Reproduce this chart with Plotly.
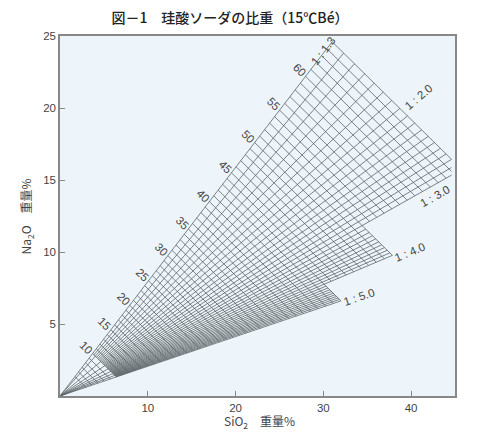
import numpy as np
import plotly.graph_objects as go

# ---- data ----
# molar ratio lines Na2O : SiO2 = 1 : r
RATIO_LINES = [1.3, 1.4, 1.5, 1.6, 1.7, 1.8, 1.9, 2.0, 2.1, 2.2, 2.3, 2.4, 2.5,
               2.6, 2.7, 2.8, 2.9, 3.0, 3.1, 3.2, 3.3, 3.4, 3.5, 3.6, 3.7, 3.8,
               3.9, 4.0, 4.1, 4.2, 4.3, 4.4, 4.5, 4.6, 4.7, 4.8, 4.9, 5.0]
# ratio lines that run all the way into the origin
RATIO_MAIN = [1.3, 1.5, 2.0, 2.5, 3.0, 3.5, 4.0, 4.5, 5.0]
RATIO_LABELS = [1.3, 2.0, 3.0, 4.0, 5.0]
# Baume lines (15 C) every 1 Be
BE_LINES = list(range(5, 66))
BE_FINE_START = 10
BE_LABELS = [10, 15, 20, 25, 30, 35, 40, 45, 50, 55, 60]
# Na2O wt% where each Be line meets the 1:1.3 line
BE_ANCHORS = [0, 5, 10, 15, 20, 25, 30, 35, 40, 45, 50, 55, 60, 65]
NA2O_ON_R13 = [0, 1.35, 2.95, 4.6, 6.3, 8.0, 9.75, 11.6, 13.5, 15.5, 17.6, 19.85, 22.2, 24.6]
BE_SLOPE = -0.60            # dNa2O/dSiO2 along an iso-Be line
BAND_LIMITS = [(3.0, 65), (4.0, 52), (5.0, 43)]   # (upper ratio of band, max Be)
SIO2_LIMIT = 44.6
MOLAR_TO_WEIGHT = 60.08 / 61.98

X_TICKS = [10, 20, 30, 40]
Y_TICKS = [5, 10, 15, 20, 25]


def wr(r):
    return r * MOLAR_TO_WEIGHT


def be_start(be):
    n1 = float(np.interp(be, BE_ANCHORS, NA2O_ON_R13))
    return wr(1.3) * n1, n1


def max_be_for_ratio(r):
    for rr, b in BAND_LIMITS:
        if r <= rr + 1e-9:
            return b
    return BAND_LIMITS[-1][1]


def end_ratio_for_be(be):
    for rr, b in reversed(BAND_LIMITS):
        if be <= b:
            return rr
    return BAND_LIMITS[0][0]


def intersect(be, r):
    s1, n1 = be_start(be)
    w = wr(r)
    s = (n1 - BE_SLOPE * s1) / (1.0 / w - BE_SLOPE)
    return s, s / w


xs, ys = [], []
for r in RATIO_LINES:
    s, n = intersect(max_be_for_ratio(r), r)
    if s > SIO2_LIMIT:
        s = SIO2_LIMIT
        n = s / wr(r)
    if any(abs(r - m) < 1e-9 for m in RATIO_MAIN):
        s0, n0 = 0.0, 0.0
    else:
        s0, n0 = intersect(BE_FINE_START, r)
    xs += [s0, s, None]
    ys += [n0, n, None]
for be in BE_LINES:
    s1, n1 = be_start(be)
    s2, n2 = intersect(be, end_ratio_for_be(be))
    if s2 > SIO2_LIMIT:
        s2 = SIO2_LIMIT
        n2 = n1 + BE_SLOPE * (s2 - s1)
    xs += [s1, s2, None]
    ys += [n1, n2, None]

fig = go.Figure()
fig.add_trace(go.Scatter(x=xs, y=ys, mode="lines",
                         line=dict(color="#5d6468", width=0.8),
                         hoverinfo="skip", showlegend=False))

ann = []
lab_font = dict(family="Liberation Sans, Arial, sans-serif", size=11.5, color="#444")
for be in BE_LABELS:
    s1, n1 = be_start(be)
    ann.append(dict(x=s1, y=n1, xref="x", yref="y", text=str(be), showarrow=False,
                    textangle=45, xshift=-6, yshift=6, font=lab_font))

ratio_shift = {1.3: (-9, -9), 2.0: (19, 11), 3.0: (-16, -21), 4.0: (18, 3), 5.0: (18, 4)}
for r in RATIO_LABELS:
    s, n = intersect(max_be_for_ratio(r), r)
    if s > SIO2_LIMIT:
        s = SIO2_LIMIT
        n = s / wr(r)
    ang = -np.degrees(np.arctan((14.4 / 8.78) / wr(r)))
    dx, dy = ratio_shift[r]
    ann.append(dict(x=s, y=n, xref="x", yref="y", text="1 : %.1f" % r, showarrow=False,
                    textangle=ang, xshift=dx, yshift=dy, font=lab_font))

cjk = "Noto Sans CJK JP, sans-serif"
ann.append(dict(x=0.506, y=-0.07, xref="paper", yref="paper", showarrow=False,
                xanchor="center", yanchor="middle",
                text="SiO<sub>2</sub>　重量%", font=dict(family=cjk, size=12, color="#444")))
ann.append(dict(x=-0.085, y=0.50, xref="paper", yref="paper", showarrow=False,
                xanchor="center", yanchor="middle",
                textangle=-90, text="Na<sub>2</sub>O　重量%",
                font=dict(family=cjk, size=12, color="#444")))

axis_common = dict(showgrid=False, zeroline=False, showline=True, linecolor="#888",
                   linewidth=1.5, mirror=True, ticks="inside", ticklen=5,
                   tickcolor="#888", tickfont=lab_font)
# the page body has an 8px margin, so margins are offset by 8px
fig.update_layout(
    width=480, height=444,
    margin=dict(l=52, r=33, t=28, b=56),
    paper_bgcolor="white", plot_bgcolor="#eef5fa",
    title=dict(text="図－1　珪酸ソーダの比重（15℃Bé）", x=0.4625, xanchor="center",
               y=0.978, yanchor="middle",
               font=dict(family=cjk, size=14, color="#222", weight=500)),
    xaxis=dict(range=[0, 45], tickvals=X_TICKS, **axis_common),
    yaxis=dict(range=[0, 25], tickvals=Y_TICKS, **axis_common),
    annotations=ann,
)
fig.write_html("out.html")
